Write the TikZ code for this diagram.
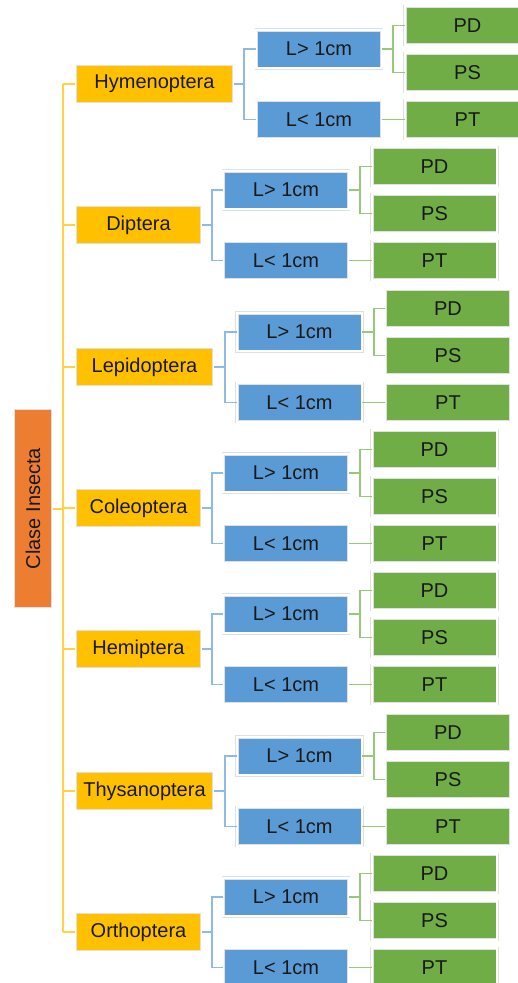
\documentclass[tikz,border=0pt]{standalone}
\usepackage{fontspec}
\setmainfont{Liberation Sans}
\definecolor{cRoot}{HTML}{ED7D31}
\definecolor{cOrd}{HTML}{FFC000}
\definecolor{cBlue}{HTML}{5B9BD5}
\definecolor{cGreen}{HTML}{70AD47}
\definecolor{lYel}{HTML}{FFD243}
\definecolor{lBlue}{HTML}{8DBBE6}
\definecolor{lGreen}{HTML}{98C978}
\begin{document}
\begin{tikzpicture}[x=1pt,y=-1pt,
  box/.style={draw=black!12, line width=0.6pt, double=white, double distance=2pt,
    inner sep=0pt, outer sep=0pt, font=\fontsize{20}{24}\selectfont, text=black!90},
  ord/.style={fill=cOrd, minimum height=39.2},
  bluebox/.style={fill=cBlue, minimum width=125.2, minimum height=38.2},
  grn/.style={fill=cGreen, minimum width=125.2, minimum height=38.2},
  yl/.style={draw=lYel, line width=2pt},
  bl/.style={draw=lBlue, line width=1.8pt},
  gl/.style={draw=lGreen, line width=1.8pt}]
\useasboundingbox (0,0) rectangle (518,983);
\clip (0,0) rectangle (518,983);
\node[box, fill=cRoot, rotate=90, minimum width=200.2, minimum height=39.2] (root) at (33,508.5) {Clase Insecta};
\coordinate (ytop) at (63,84);
\coordinate (ybot) at (63,932);
\draw[yl] (ytop) -- (ybot);
\draw[yl] (root.south) -- (root.south -| ytop);
\foreach \i/\name/\c/\ox/\ow/\bx/\bk/\gx/\gk in {
  1/Hymenoptera/84/154.5/155/319/244/467.5/393,
  2/Diptera/225/138.5/123/286/212/434.5/360,
  3/Lepidoptera/367/144.5/135/299.5/225/448/374,
  4/Coleoptera/508/138.5/123/286/212/434.5/360,
  5/Hemiptera/649/138.5/123/286/212/434.5/360,
  6/Thysanoptera/791/144.5/135/299.5/225/448/374,
  7/Orthoptera/932/138.5/123/286/212/434.5/360}{
  \node[box, ord, minimum width=\ow+3.2] (o\i) at (\ox,\c) {\name};
  \node[box, bluebox] (a\i) at (\bx,\c-35) {L> 1cm};
  \node[box, bluebox] (b\i) at (\bx,\c+35.5) {L< 1cm};
  \node[box, grn] (pd\i) at (\gx,\c-58.5) {PD};
  \node[box, grn] (ps\i) at (\gx,\c-11.5) {PS};
  \node[box, grn] (pt\i) at (\gx,\c+35.5) {PT};
  \coordinate (bk\i) at (\bk,\c);
  \coordinate (gk\i) at (\gk,\c-35);
  \draw[yl] (o\i.west) -- (o\i.west -| ytop);
  \draw[bl] (o\i.east) -- (bk\i);
  \draw[bl] (a\i.west) -| (bk\i) |- (b\i.west);
  \draw[gl] (a\i.east) -- (gk\i);
  \draw[gl] (pd\i.west) -| (gk\i) |- (ps\i.west);
  \draw[gl] (b\i.east) -- (pt\i.west);
}
\end{tikzpicture}
\end{document}
